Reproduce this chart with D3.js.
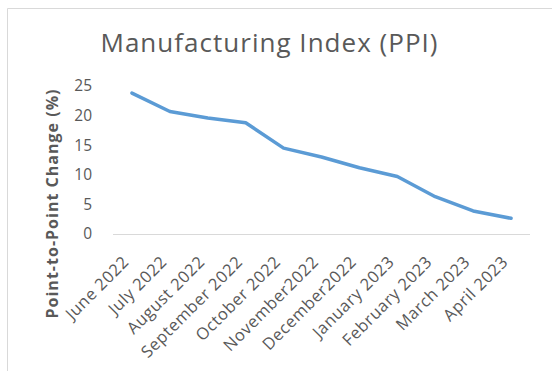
<!DOCTYPE html>
<html>
<head>
<meta charset="utf-8">
<script src="https://cdn.jsdelivr.net/npm/d3@7"></script>
<style>
  body { margin: 0; background: #fff; }
  svg { display: block; }
  text { font-family: "Open Sans", sans-serif; fill: #595959; }
</style>
</head>
<body>
<svg id="chart" width="552" height="371"></svg>
<script>
const months = ['June 2022', 'July 2022', 'August 2022', 'September 2022', 'October 2022',
  'November2022', 'December2022', 'January 2023', 'February 2023', 'March 2023', 'April 2023'];
const ppiChange = [23.8, 20.7, 19.6, 18.8, 14.5, 13.0, 11.2, 9.7, 6.3, 3.9, 2.65];
const yTicks = [0, 5, 10, 15, 20, 25];

const svg = d3.select('#chart');

// chart area border (only top and left edges are inside the picture)
svg.append('path')
  .attr('d', 'M7.5,380V8.5H560')
  .attr('fill', 'none')
  .attr('stroke', '#d9d9d9');

const x = d3.scaleBand().domain(months).range([113, 530]);
const y = d3.scaleLinear().domain([0, 25]).range([234, 86]);

svg.append('text')
  .attr('x', 269)
  .attr('y', 52)
  .attr('text-anchor', 'middle')
  .attr('font-size', 26)
  .attr('textLength', 337)
  .attr('lengthAdjust', 'spacing')
  .text('Manufacturing Index (PPI)');

// y axis labels, no axis line
const yAxis = svg.append('g')
  .attr('transform', 'translate(98,0)')
  .call(d3.axisLeft(y).tickValues(yTicks).tickSize(0).tickPadding(6));
yAxis.select('.domain').remove();
yAxis.selectAll('text')
  .attr('font-size', 15.5)
  .attr('font-family', '"Open Sans", sans-serif')
  .attr('fill', '#595959');

// baseline
svg.append('line')
  .attr('x1', x.range()[0]).attr('x2', x.range()[1])
  .attr('y1', y(0) + 0.5).attr('y2', y(0) + 0.5)
  .attr('stroke', '#d9d9d9')
  .attr('stroke-width', 1);

// x labels, rotated
const xAxis = svg.append('g')
  .attr('transform', `translate(0,${y(0)})`)
  .call(d3.axisBottom(x).tickSize(0).tickPadding(0));
xAxis.select('.domain').remove();
xAxis.selectAll('text')
  .attr('font-size', 16.5)
  .attr('letter-spacing', '0.6px')
  .attr('font-family', '"Open Sans", sans-serif')
  .attr('fill', '#595959')
  .attr('text-anchor', 'end')
  .attr('dy', null)
  .attr('y', null)
  .attr('transform', 'translate(-2,29) rotate(-45)');

svg.append('text')
  .attr('transform', 'translate(58,204) rotate(-90)')
  .attr('text-anchor', 'middle')
  .attr('font-size', 16)
  .attr('font-weight', 'bold')
  .attr('fill', '#404040')
  .attr('textLength', 229)
  .attr('lengthAdjust', 'spacing')
  .text('Point-to-Point Change (%)');

const line = d3.line()
  .x((d, i) => x(months[i]) + x.bandwidth() / 2)
  .y(d => y(d));

svg.append('path')
  .datum(ppiChange)
  .attr('d', line)
  .attr('fill', 'none')
  .attr('stroke', '#5b9bd5')
  .attr('stroke-width', 3.5)
  .attr('stroke-linejoin', 'round')
  .attr('stroke-linecap', 'round');
</script>
</body>
</html>
